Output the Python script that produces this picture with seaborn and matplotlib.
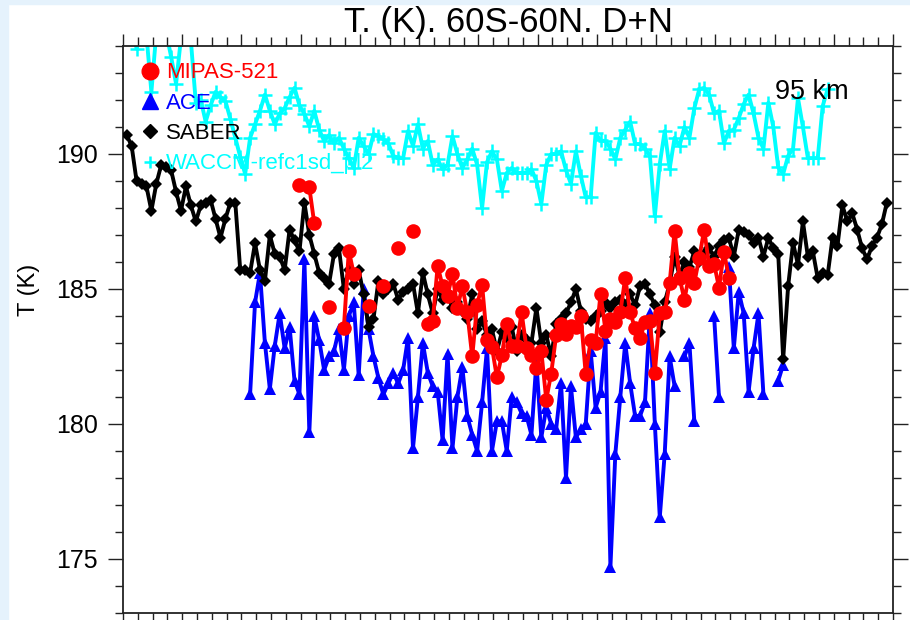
import numpy as np
import matplotlib
matplotlib.use("Agg")
import matplotlib.pyplot as plt
from matplotlib.lines import Line2D
from matplotlib.patches import Rectangle
from matplotlib.ticker import MultipleLocator
import pandas as pd
import seaborn as sns

nan = np.nan

# monthly means, index = months since Jan 2002 of the first value
saber_start = 0
saber_T = [190.7, 190.3, 189.0, 188.9, 188.8, 187.9, 188.9, 189.6, 189.5, 189.4,
           188.6, 187.9, 188.8, 188.1, 187.5, 188.1, 188.2, 188.3, 187.6, 186.9,
           187.6, 188.2, 188.2, 185.7, 185.7, 185.6, 186.7, 185.7, 185.3, 187.0,
           186.3, 186.2, 185.7, 187.2, 186.8, 186.4, 188.2, 187.0, 186.3, 185.6,
           185.4, 185.2, 186.3, 186.5, 185.0, 185.7, 185.2, 185.7, 184.8, 183.6,
           183.9, 185.3, 184.8, 185.0, 185.2, 184.6, 184.9, 185.0, 185.2, 184.1,
           185.6, 184.8, 184.1, 185.0, 184.6, 184.8, 184.3, 184.5, 184.2, 183.9,
           184.8, 183.5, 183.8, 183.3, 183.5, 182.7, 183.4, 183.2, 183.6, 182.7,
           183.3, 183.1, 183.0, 184.3, 183.0, 183.3, 182.5, 183.7, 183.9, 184.1,
           184.5, 185.0, 184.2, 183.9, 183.8, 184.0, 184.2, 184.5, 184.3, 184.5,
           184.6, 184.4, 184.8, 184.4, 185.1, 185.2, 184.8, 184.4, 183.4, 184.5,
           185.2, 186.2, 185.5, 186.0, 185.8, 186.4, 186.0, 186.3, 186.5, 186.2,
           186.6, 186.8, 186.9, 186.2, 187.2, 187.1, 187.0, 186.7, 186.9, 186.2,
           186.9, 186.5, 186.3, 182.4, 185.1, 186.7, 185.9, 187.5, 186.2, 186.4,
           185.4, 185.6, 185.5, 186.9, 186.6, 188.1, 187.5, 187.8, 187.2, 186.5,
           186.1, 186.6, 186.9, 187.4, 188.2]

waccm_start = 0
waccm_T = [195.0, 195.0, 193.9, 194.6, 194.4, 192.3, 194.5, 194.8, 194.5, 193.6,
           192.6, 194.3, 194.6, 194.2, 191.9, 192.0, 191.2, 191.8, 192.3, 192.1,
           191.96, 191.3, 190.6, 189.9, 189.26, 190.6, 191.1, 191.6, 192.2, 191.6,
           191.1, 191.5, 191.7, 192.1, 192.45, 191.8, 191.48, 191.03, 191.6, 190.9,
           190.48, 190.7, 190.4, 190.6, 190.2, 189.85, 189.48, 190.6, 190.3, 190.0,
           190.74, 190.66, 190.55, 190.4, 189.93, 189.85, 189.85, 190.85, 190.3, 191.1,
           190.2, 190.48, 189.6, 189.8, 189.44, 189.6, 190.66, 190.0, 189.48, 189.8,
           190.2, 189.6, 188.0, 189.7, 190.1, 189.8, 188.63, 189.3, 189.48, 189.3,
           189.3, 189.3, 189.44, 189.0, 188.15, 189.6, 190.0, 190.0, 190.1, 189.4,
           188.9, 190.1, 189.2, 188.4, 188.4, 190.78, 190.5, 190.48, 190.2, 189.8,
           190.6, 190.9, 191.2, 190.37, 190.37, 190.2, 189.93, 187.7, 189.63, 190.85,
           189.45, 190.6, 190.3, 191.0, 190.6, 191.7, 192.4, 192.45, 192.2, 191.5,
           191.6, 190.4, 190.85, 190.9, 191.33, 191.85, 192.2, 191.5, 190.6, 190.2,
           191.9, 191.0, 189.5, 189.26, 189.93, 190.2, 192.07, 191.0, 189.85, 189.85,
           189.85, 191.77, 192.4]

mipas_start = 35
mipas_T = [188.85, nan, 188.76, 187.43, nan, nan, 184.32, nan, nan, 183.57,
           186.42, 185.56, nan, nan, 184.38, nan, nan, 185.12, nan, nan,
           186.5, nan, nan, 187.15, nan, nan,
           183.72, 183.8, 185.86, 185.1, 184.75, 185.56, 184.3, 185.1, 184.13, 182.5,
           184.42, 185.16, 183.1, 182.84, 181.73, 182.54, 183.72, 182.9, 182.9, 184.13,
           182.8, 182.54, 182.06, 182.7, 180.9, 181.87, 183.28, 183.72, 183.35, 183.64,
           183.6, 184.0, 181.84, 183.1, 183.0, 184.83, 183.46, 183.9, 183.76, 184.13,
           185.42, 184.13, 183.54, 183.17, 183.76, 183.8, 181.9, 184.1, 184.13, 185.23,
           187.15, 185.42, 184.6, 185.6, 185.23, 186.16, 187.2, 185.86, 185.94, 185.05,
           186.38, 185.42]

ace_start = 25
ace_T = [181.1, 184.5, 185.6, 183.0, 181.3, 182.9, 184.1, 182.8, 183.6, 181.6,
         181.1, 186.1, 179.7, 184.0, 183.1, 182.0, 182.5, 182.7, 183.5, 182.0,
         184.0, 184.5, 181.8, 185.0, 183.5, 182.5, 181.7, 181.1, 181.5, 181.9,
         181.5, 182.0, 183.2, 179.1, 181.0, 183.0, 181.9, 181.4, 181.2, 179.4,
         182.6, 179.1, 181.0, 182.1, 180.3, 179.6, 179.0, 180.8, 182.8, 179.0,
         180.1, 180.1, 179.0, 181.0, 180.8, 180.4, 180.3, 179.6, 182.3, 179.5,
         180.6, 180.0, 179.8, 181.5, 178.0, 181.4, 179.5, 179.8, 180.0, 182.7,
         180.6, 181.2, 183.2, 174.7, 178.9, 181.0, 183.0, 181.5, 180.3, 180.3,
         180.8, 184.1, 180.0, 176.55, 178.9, 182.5, 181.4, nan, 182.5, 183.0,
         180.1, nan, nan, nan, 184.0, 181.0, nan, 185.8, 182.8, 184.9,
         184.1, 181.2, 182.8, 184.1, 181.1, nan, nan, 181.6, 182.2]

labels = ["MIPAS-521", "ACE", "SABER", "WACCM-refc1sd_pl2"]
colors = ["#ff0000", "#0000ff", "#000000", "#00ffff"]


def to_frame(start, vals):
    vals = np.asarray(vals, dtype=float)
    months = start + np.arange(len(vals))
    df = pd.DataFrame({"time": 2002 + (months + 0.75) / 12.0, "T": vals})
    # a new segment after every gap, so lines are not joined across missing months
    df["seg"] = df["T"].isna().cumsum()
    return df.dropna()


sns.set_theme(style="white")
plt.rcParams["font.family"] = ["Liberation Sans", "DejaVu Sans"]
plt.rcParams["text.color"] = "black"
plt.rcParams["axes.labelcolor"] = "black"
plt.rcParams["xtick.color"] = "black"
plt.rcParams["ytick.color"] = "black"

fig = plt.figure(figsize=(9.1, 6.2), dpi=100)

# light blue page edge of the original screenshot
fig.patches.append(Rectangle((0, 0), 8 / 910, 1, transform=fig.transFigure,
                             color="#e5f2fc", zorder=0))
fig.patches.append(Rectangle((0, 1 - 4 / 620), 1, 4 / 620, transform=fig.transFigure,
                             color="#e5f2fc", zorder=0))

ax = fig.add_axes([123 / 910, 7 / 620, 770 / 910, 567 / 620])

line_kw = dict(units="seg", estimator=None, sort=False, legend=False, ax=ax,
               linewidth=2.8)

sns.lineplot(data=to_frame(waccm_start, waccm_T), x="time", y="T", color=colors[3],
             marker="+", markersize=9.5, markeredgewidth=1.8,
             markeredgecolor=colors[3], zorder=2, **line_kw)
sns.lineplot(data=to_frame(ace_start, ace_T), x="time", y="T", color=colors[1],
             marker="^", markersize=9, markeredgewidth=0,
             markerfacecolor=colors[1], zorder=3, **line_kw)
sns.lineplot(data=to_frame(saber_start, saber_T), x="time", y="T", color=colors[2],
             marker="D", markersize=6.0, markeredgewidth=0,
             markerfacecolor=colors[2], zorder=4, **line_kw)
sns.lineplot(data=to_frame(mipas_start, mipas_T), x="time", y="T", color=colors[0],
             marker="o", markersize=10.5, markeredgewidth=0,
             markerfacecolor=colors[0], zorder=5, **line_kw)

ax.set_xlim(2002, 2015)
ax.set_ylim(173, 194)
ax.xaxis.set_major_locator(MultipleLocator(1))
ax.xaxis.set_minor_locator(MultipleLocator(0.25))
ax.yaxis.set_major_locator(MultipleLocator(5))
ax.yaxis.set_minor_locator(MultipleLocator(1))

ax.tick_params(axis="both", which="both", direction="out", top=True, right=True,
               bottom=True, left=True, labelbottom=False, labeltop=False,
               labelright=False, color="#222222", width=1.0)
ax.tick_params(axis="x", which="major", length=9)
ax.tick_params(axis="x", which="minor", length=6.5)
ax.tick_params(axis="y", which="major", length=11, labelsize=18, pad=7)
ax.tick_params(axis="y", which="minor", length=6)
for s in ax.spines.values():
    s.set_color("#222222")
    s.set_linewidth(1.3)

ax.set_xlabel("")
ax.set_ylabel("T (K)", fontsize=17)
ax.yaxis.set_label_coords(-0.108, 0.57)

fig.text(508 / 910, 1 - 32 / 620, "T. (K). 60S-60N. D+N", ha="center",
         va="baseline", fontsize=25)
ax.text(0.8468, 0.9065, "95 km", transform=ax.transAxes, fontsize=19.5,
        va="baseline", ha="left")

handles = [
    Line2D([], [], linestyle="none", marker="o", markersize=12, color=colors[0]),
    Line2D([], [], linestyle="none", marker="^", markersize=12, color=colors[1]),
    Line2D([], [], linestyle="none", marker="D", markersize=7, color=colors[2]),
    Line2D([], [], linestyle="none", marker="+", markersize=8,
           markeredgewidth=1.8, color=colors[3]),
]
ax.legend(handles, labels, loc="upper left", bbox_to_anchor=(0.0211, 0.971),
          frameon=False, fontsize=16, handlelength=1.0, handletextpad=0.2,
          labelspacing=0.42, borderpad=0, borderaxespad=0, labelcolor=colors)

# bottom ticks of the panel above, cut by the screenshot edge
ax_up = fig.add_axes([123 / 910, 1 + 1 / 620, 770 / 910, 0.05])
ax_up.set_xlim(2002, 2015)
ax_up.xaxis.set_major_locator(MultipleLocator(1))
ax_up.xaxis.set_minor_locator(MultipleLocator(0.25))
ax_up.set_yticks([])
ax_up.tick_params(axis="x", which="both", direction="out", length=4.5,
                  labelbottom=False, color="#222222", width=1.0)
for s in ax_up.spines.values():
    s.set_visible(False)
ax_up.patch.set_alpha(0)

fig.savefig("out.png", dpi=100)
